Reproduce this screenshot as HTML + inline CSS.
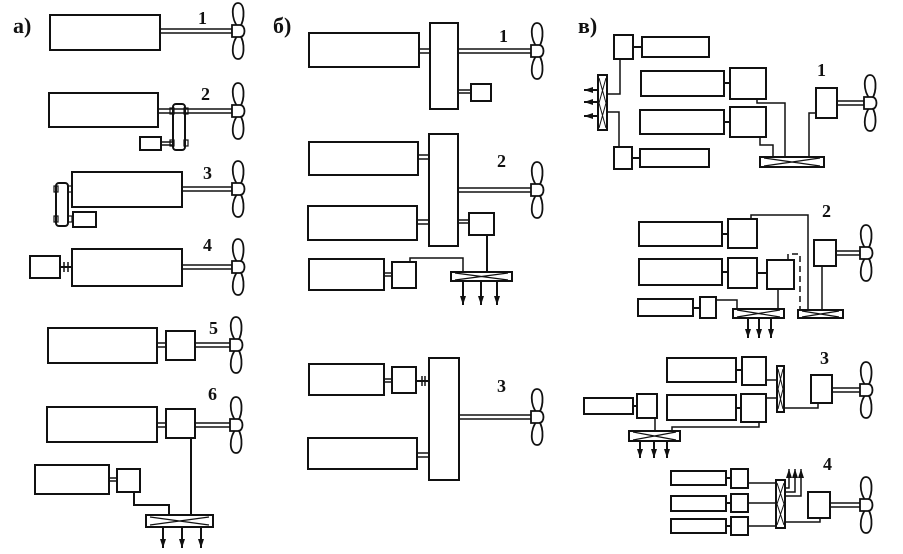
<!DOCTYPE html>
<html><head><meta charset="utf-8"><style>
html,body{margin:0;padding:0;background:#fff;}
svg{display:block;}
text{font-family:"Liberation Serif",serif;font-weight:bold;fill:#111;}
</style></head><body>
<svg width="903" height="554" viewBox="0 0 903 554" xmlns="http://www.w3.org/2000/svg">
<defs>
<g id="prop">
<path d="M0,-4 C-7,-12 -7,-28 0,-28 C7,-28 7,-12 2,-4 Z" fill="#fff" stroke="#111" stroke-width="1.8"/>
<path d="M0,4 C-7,12 -7,28 0,28 C7,28 7,12 2,4 Z" fill="#fff" stroke="#111" stroke-width="1.8"/>
<path d="M-6,-6 L2,-6 C8,-6 8,6 2,6 L-6,6 Z" fill="#fff" stroke="#111" stroke-width="1.8"/>
</g>
<marker id="ar" markerWidth="9" markerHeight="6" refX="9" refY="3" orient="auto" markerUnits="userSpaceOnUse" viewBox="0 0 9 6">
<path d="M0,0 L9,3 L0,6 Z" fill="#111"/>
</marker>
</defs>
<g fill="none" stroke="#111" stroke-width="2">

<!-- а -->
<text x="13" y="33" font-size="22" stroke="none">а)</text>
<rect x="50" y="15" width="110" height="35"/>
<rect x="160" y="29" width="72" height="4" stroke-width="1.5"/>
<use href="#prop" x="238" y="31"/>
<text x="198" y="24" font-size="18" stroke="none">1</text>

<rect x="49" y="93" width="109" height="34"/>
<rect x="158" y="109" width="74" height="4" stroke-width="1.5"/>
<rect x="173" y="104" width="12" height="46" rx="3"/>
<rect x="140" y="137" width="21" height="13"/>
<rect x="161" y="142" width="12" height="3" stroke-width="1.5"/>
<rect x="170" y="108" width="4" height="6" stroke-width="1.2"/><rect x="184" y="108" width="4" height="6" stroke-width="1.2"/>
<rect x="170" y="140" width="4" height="6" stroke-width="1.2"/><rect x="184" y="140" width="4" height="6" stroke-width="1.2"/>
<use href="#prop" x="238" y="111"/>
<text x="201" y="100" font-size="18" stroke="none">2</text>

<rect x="72" y="172" width="110" height="35"/>
<rect x="182" y="187" width="50" height="4" stroke-width="1.5"/>
<rect x="56" y="183" width="12" height="43" rx="3"/>
<rect x="54" y="186" width="4" height="6" stroke-width="1.2"/><rect x="68" y="186" width="4" height="6" stroke-width="1.2"/>
<rect x="54" y="216" width="4" height="6" stroke-width="1.2"/><rect x="68" y="216" width="4" height="6" stroke-width="1.2"/>
<rect x="73" y="212" width="23" height="15"/>
<use href="#prop" x="238" y="189"/>
<text x="203" y="179" font-size="18" stroke="none">3</text>

<rect x="72" y="249" width="110" height="37"/>
<rect x="30" y="256" width="30" height="22"/>
<line x1="60" y1="267" x2="72" y2="267"/>
<line x1="64" y1="262" x2="64" y2="272" stroke-width="1.5"/><line x1="68" y1="262" x2="68" y2="272" stroke-width="1.5"/>
<rect x="182" y="265" width="50" height="4" stroke-width="1.5"/>
<use href="#prop" x="238" y="267"/>
<text x="203" y="251" font-size="18" stroke="none">4</text>

<rect x="48" y="328" width="109" height="35"/>
<rect x="157" y="343" width="9" height="4" stroke-width="1.5"/>
<rect x="166" y="331" width="29" height="29"/>
<rect x="195" y="343" width="37" height="4" stroke-width="1.5"/>
<use href="#prop" x="236" y="345"/>
<text x="209" y="334" font-size="18" stroke="none">5</text>

<rect x="47" y="407" width="110" height="35"/>
<rect x="157" y="423" width="9" height="4" stroke-width="1.5"/>
<rect x="166" y="409" width="29" height="29"/>
<rect x="195" y="423" width="37" height="4" stroke-width="1.5"/>
<use href="#prop" x="236" y="425"/>
<text x="208" y="400" font-size="18" stroke="none">6</text>
<line x1="191" y1="438" x2="191" y2="515"/>
<rect x="35" y="465" width="74" height="29"/>
<rect x="109" y="478" width="8" height="3" stroke-width="1.5"/>
<rect x="117" y="469" width="23" height="23"/>
<polyline points="134,492 134,505 169,505 169,515"/>
<rect x="146" y="515" width="67" height="12"/>
<path d="M150,517 L209,525 M150,525 L209,517" stroke-width="1.3"/>
<line x1="163" y1="527" x2="163" y2="548" marker-end="url(#ar)"/>
<line x1="182" y1="527" x2="182" y2="548" marker-end="url(#ar)"/>
<line x1="201" y1="527" x2="201" y2="548" marker-end="url(#ar)"/>

<!-- б -->
<text x="273" y="33" font-size="22" stroke="none">б)</text>
<rect x="309" y="33" width="110" height="34"/>
<rect x="430" y="23" width="28" height="86"/>
<rect x="419" y="49" width="11" height="4" stroke-width="1.5"/>
<rect x="458" y="49" width="74" height="4" stroke-width="1.5"/>
<use href="#prop" x="537" y="51"/>
<rect x="471" y="84" width="20" height="17"/>
<rect x="458" y="90" width="13" height="3" stroke-width="1.5"/>
<text x="499" y="42" font-size="18" stroke="none">1</text>

<rect x="309" y="142" width="109" height="33"/>
<rect x="308" y="206" width="109" height="34"/>
<rect x="429" y="134" width="29" height="112"/>
<rect x="418" y="155" width="11" height="4" stroke-width="1.5"/>
<rect x="417" y="220" width="12" height="4" stroke-width="1.5"/>
<rect x="458" y="188" width="74" height="4" stroke-width="1.5"/>
<use href="#prop" x="537" y="190"/>
<text x="497" y="167" font-size="18" stroke="none">2</text>
<rect x="469" y="213" width="25" height="22"/>
<rect x="458" y="220" width="11" height="3" stroke-width="1.5"/>
<line x1="487" y1="235" x2="487" y2="272"/>
<rect x="309" y="259" width="75" height="31"/>
<rect x="384" y="273" width="8" height="3" stroke-width="1.5"/>
<rect x="392" y="262" width="24" height="26"/>
<polyline points="410,262 410,258 463,258 463,272" stroke-width="1.5"/>
<rect x="451" y="272" width="61" height="9"/>
<path d="M455,273 L508,280 M455,280 L508,273" stroke-width="1.3"/>
<line x1="463" y1="281" x2="463" y2="305" marker-end="url(#ar)"/>
<line x1="481" y1="281" x2="481" y2="305" marker-end="url(#ar)"/>
<line x1="497" y1="281" x2="497" y2="305" marker-end="url(#ar)"/>

<rect x="309" y="364" width="75" height="31"/>
<rect x="384" y="379" width="8" height="3" stroke-width="1.5"/>
<rect x="392" y="367" width="24" height="26"/>
<line x1="416" y1="381" x2="429" y2="381"/>
<line x1="422" y1="376" x2="422" y2="386" stroke-width="1.5"/><line x1="425" y1="376" x2="425" y2="386" stroke-width="1.5"/>
<rect x="429" y="358" width="30" height="122"/>
<rect x="308" y="438" width="109" height="31"/>
<rect x="417" y="453" width="12" height="4" stroke-width="1.5"/>
<rect x="459" y="415" width="73" height="4" stroke-width="1.5"/>
<use href="#prop" x="537" y="417"/>
<text x="497" y="392" font-size="18" stroke="none">3</text>

<!-- в -->
<text x="578" y="33" font-size="22" stroke="none">в)</text>
<rect x="614" y="35" width="19" height="24"/>
<rect x="642" y="37" width="67" height="20"/>
<line x1="633" y1="47" x2="642" y2="47"/>
<rect x="598" y="75" width="9" height="55"/>
<path d="M599,78 L606,103 L599,128 M606,78 L599,103 L606,128" stroke-width="1"/>
<line x1="598" y1="90" x2="584" y2="90" marker-end="url(#ar)"/>
<line x1="598" y1="102" x2="584" y2="102" marker-end="url(#ar)"/>
<line x1="598" y1="116" x2="584" y2="116" marker-end="url(#ar)"/>
<polyline points="607,94 620,94 620,59" stroke-width="1.5"/>
<polyline points="607,112 619,112 619,147" stroke-width="1.5"/>
<rect x="614" y="147" width="18" height="22"/>
<rect x="640" y="149" width="69" height="18"/>
<line x1="632" y1="158" x2="640" y2="158"/>
<rect x="641" y="71" width="83" height="25"/>
<rect x="730" y="68" width="36" height="31"/>
<line x1="724" y1="83" x2="730" y2="83"/>
<rect x="640" y="110" width="84" height="24"/>
<rect x="730" y="107" width="36" height="30"/>
<line x1="724" y1="122" x2="730" y2="122"/>
<polyline points="757,99 757,103 785,103 785,157" stroke-width="1.5"/>
<polyline points="760,137 760,145 773,145 773,157" stroke-width="1.5"/>
<rect x="760" y="157" width="64" height="10"/>
<path d="M764,158 L820,166 M764,166 L820,158" stroke-width="1.3"/>
<polyline points="809,157 809,113 816,113" stroke-width="1.5"/>
<rect x="816" y="88" width="21" height="30"/>
<rect x="837" y="101" width="27" height="4" stroke-width="1.5"/>
<use href="#prop" x="870" y="103"/>
<text x="817" y="76" font-size="18" stroke="none">1</text>

<text x="822" y="217" font-size="18" stroke="none">2</text>
<rect x="639" y="222" width="83" height="24"/>
<rect x="728" y="219" width="29" height="29"/>
<line x1="722" y1="234" x2="728" y2="234"/>
<polyline points="751,219 751,215 808,215 808,310" stroke-width="1.5"/>
<rect x="639" y="259" width="83" height="26"/>
<rect x="728" y="258" width="29" height="30"/>
<line x1="722" y1="272" x2="728" y2="272"/>
<line x1="757" y1="273" x2="767" y2="273"/>
<rect x="767" y="260" width="27" height="29"/>
<polyline points="788,260 788,254 800,254 800,310" stroke-width="1.5" stroke-dasharray="6,4"/>
<rect x="814" y="240" width="22" height="26"/>
<rect x="836" y="251" width="24" height="4" stroke-width="1.5"/>
<use href="#prop" x="866" y="253"/>
<line x1="822" y1="266" x2="822" y2="310" stroke-width="1.5"/>
<rect x="798" y="310" width="45" height="8"/>
<path d="M802,311 L839,317 M802,317 L839,311" stroke-width="1.2"/>
<rect x="638" y="299" width="55" height="17"/>
<line x1="693" y1="308" x2="700" y2="308"/>
<rect x="700" y="297" width="16" height="21"/>
<polyline points="716,300 737,300 737,309" stroke-width="1.5"/>
<line x1="778" y1="289" x2="778" y2="309" stroke-width="1.5"/>
<rect x="733" y="309" width="51" height="9"/>
<path d="M737,310 L780,317 M737,317 L780,310" stroke-width="1.2"/>
<line x1="748" y1="318" x2="748" y2="338" marker-end="url(#ar)"/>
<line x1="759" y1="318" x2="759" y2="338" marker-end="url(#ar)"/>
<line x1="771" y1="318" x2="771" y2="338" marker-end="url(#ar)"/>

<text x="820" y="364" font-size="18" stroke="none">3</text>
<rect x="667" y="358" width="69" height="24"/>
<rect x="742" y="357" width="24" height="28"/>
<line x1="736" y1="370" x2="742" y2="370"/>
<rect x="667" y="395" width="69" height="25"/>
<rect x="741" y="394" width="25" height="28"/>
<line x1="736" y1="408" x2="741" y2="408"/>
<line x1="766" y1="380" x2="777" y2="380" stroke-width="1.5"/>
<line x1="766" y1="398" x2="777" y2="398" stroke-width="1.5"/>
<rect x="777" y="366" width="7" height="46"/>
<path d="M778,369 L783,389 L778,409 M783,369 L778,389 L783,409" stroke-width="1"/>
<polyline points="784,408 818,408 818,403" stroke-width="1.5"/>
<rect x="811" y="375" width="21" height="28"/>
<rect x="832" y="388" width="30" height="4" stroke-width="1.5"/>
<use href="#prop" x="866" y="390"/>
<rect x="584" y="398" width="49" height="16"/>
<line x1="633" y1="406" x2="637" y2="406"/>
<rect x="637" y="394" width="20" height="24"/>
<line x1="655" y1="418" x2="655" y2="431" stroke-width="1.5"/>
<polyline points="672,431 672,427 759,427 759,422" stroke-width="1.5"/>
<rect x="629" y="431" width="51" height="10"/>
<path d="M633,432 L676,440 M633,440 L676,432" stroke-width="1.2"/>
<line x1="640" y1="441" x2="640" y2="458" marker-end="url(#ar)"/>
<line x1="654" y1="441" x2="654" y2="458" marker-end="url(#ar)"/>
<line x1="667" y1="441" x2="667" y2="458" marker-end="url(#ar)"/>

<text x="823" y="470" font-size="18" stroke="none">4</text>
<rect x="671" y="471" width="55" height="14"/>
<rect x="731" y="469" width="17" height="19"/>
<line x1="726" y1="478" x2="731" y2="478"/>
<rect x="671" y="496" width="55" height="15"/>
<rect x="731" y="494" width="17" height="18"/>
<line x1="726" y1="503" x2="731" y2="503"/>
<rect x="671" y="519" width="55" height="14"/>
<rect x="731" y="517" width="17" height="18"/>
<line x1="726" y1="526" x2="731" y2="526"/>
<line x1="748" y1="483" x2="776" y2="483" stroke-width="1.5"/>
<line x1="748" y1="503" x2="776" y2="503" stroke-width="1.5"/>
<line x1="748" y1="526" x2="776" y2="526" stroke-width="1.5"/>
<rect x="776" y="480" width="9" height="48"/>
<path d="M777,483 L784,504 L777,525 M784,483 L777,504 L784,525" stroke-width="1"/>
<polyline points="785,488 789,488 789,469" stroke-width="1.5" marker-end="url(#ar)"/>
<polyline points="785,492 795,492 795,469" stroke-width="1.5" marker-end="url(#ar)"/>
<polyline points="785,496 801,496 801,469" stroke-width="1.5" marker-end="url(#ar)"/>
<polyline points="785,522 820,522 820,518" stroke-width="1.5"/>
<rect x="808" y="492" width="22" height="26"/>
<rect x="830" y="503" width="32" height="4" stroke-width="1.5"/>
<use href="#prop" x="866" y="505"/>
</g>
</svg>
</body></html>
